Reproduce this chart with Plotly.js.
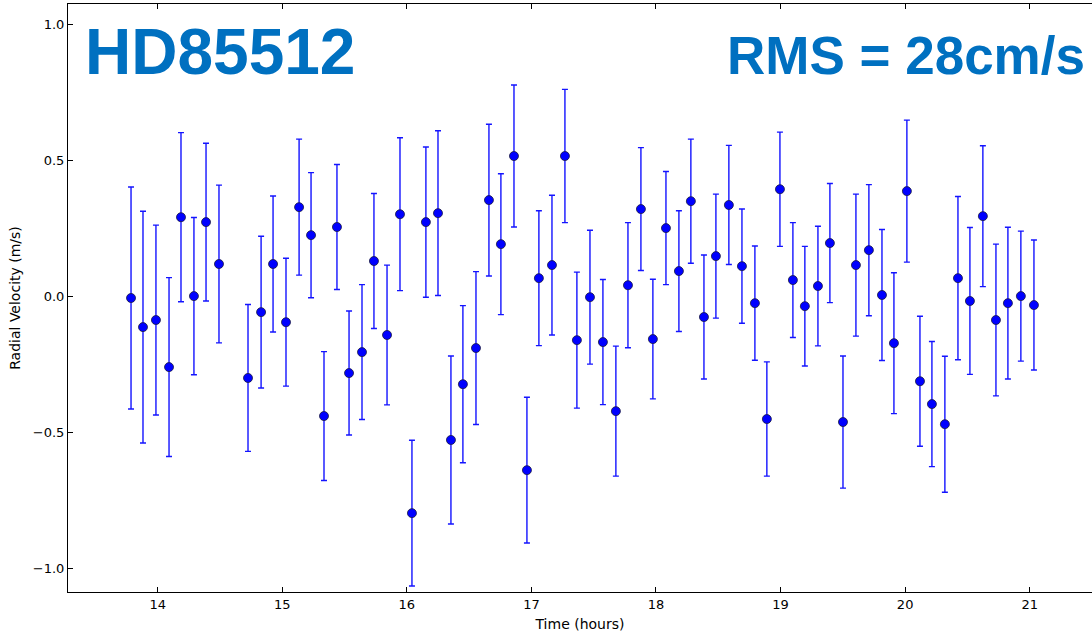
<!DOCTYPE html>
<html>
<head>
<meta charset="utf-8">
<script src="https://cdn.plot.ly/plotly-3.0.1.min.js"></script>
<style>html,body{margin:0;padding:0;background:#fff;}#chart{width:1092px;height:632px;}</style>
</head>
<body>
<div id="chart"></div>
<script>
// Time (hours)
const timeHours = [13.786,13.882,13.986,14.091,14.187,14.291,14.388,14.492,
  14.725,14.830,14.926,15.030,15.135,15.231,15.335,15.439,15.536,15.640,15.736,15.841,15.945,
  16.041,16.153,16.250,16.354,16.450,16.555,16.659,16.755,16.860,16.964,17.060,17.165,17.269,
  17.365,17.470,17.574,17.678,17.775,17.879,17.975,18.080,18.184,18.280,18.385,18.481,18.585,
  18.690,18.794,18.890,18.995,19.099,19.195,19.300,19.396,19.501,19.605,19.709,19.814,19.910,
  20.014,20.119,20.215,20.319,20.424,20.520,20.624,20.729,20.825,20.929,21.034];
// Radial velocity (m/s)
const radialVelocity = [-0.007,-0.114,-0.088,-0.261,0.290,0.000,0.272,0.118,
  -0.301,-0.059,0.118,-0.096,0.327,0.224,-0.441,0.254,-0.283,-0.206,0.129,-0.143,0.301,
  -0.798,0.272,0.305,-0.529,-0.324,-0.191,0.353,0.191,0.515,-0.640,0.066,0.114,0.515,
  -0.162,-0.004,-0.169,-0.423,0.040,0.320,-0.158,0.250,0.092,0.349,-0.077,0.147,0.335,
  0.110,-0.026,-0.452,0.393,0.059,-0.037,0.037,0.195,-0.463,0.114,0.169,0.004,-0.173,
  0.386,-0.313,-0.397,-0.471,0.066,-0.018,0.294,-0.088,-0.026,0.000,-0.033];
// Error (m/s)
const rvError = [0.408,0.426,0.349,0.329,0.311,0.289,0.290,0.290,
  0.270,0.279,0.250,0.235,0.250,0.230,0.237,0.230,0.228,0.248,0.248,0.257,0.281,
  0.268,0.276,0.303,0.309,0.289,0.281,0.279,0.259,0.261,0.268,0.248,0.257,0.245,
  0.250,0.246,0.230,0.239,0.230,0.226,0.220,0.208,0.222,0.228,0.228,0.228,0.219,
  0.210,0.210,0.210,0.210,0.211,0.220,0.220,0.219,0.243,0.261,0.241,0.241,0.259,
  0.261,0.239,0.230,0.250,0.300,0.270,0.259,0.279,0.279,0.239,0.239];

const xTickVals = [14,15,16,17,18,19,20,21];
const xTickText = ['14','15','16','17','18','19','20','21'];
const yTickVals = [1.0,0.5,0.0,-0.5,-1.0];
const yTickText = ['1.0','0.5','0.0','\u22120.5','\u22121.0'];

const starName = 'HD85512';
const rmsLabel = 'RMS = 28cm/s';
const xTitle = 'Time (hours)';
const yTitle = 'Radial Velocity (m/s)';

const trace = {
  type: 'scatter',
  mode: 'markers',
  x: timeHours,
  y: radialVelocity,
  marker: {color: '#0000ff', size: 9, line: {color: '#1a1a40', width: 0.8}},
  error_y: {type: 'data', array: rvError, visible: true, color: '#1414ff', thickness: 1.4, width: 3},
  hoverinfo: 'x+y'
};

const tickFont = {family: 'DejaVu Sans', size: 13, color: '#000'};
const titleFont = {family: 'DejaVu Sans', size: 14, color: '#000'};
const layout = {
  width: 1092, height: 632,
  margin: {l: 68, r: 0, t: 4, b: 40},
  paper_bgcolor: '#fff', plot_bgcolor: '#fff',
  showlegend: false,
  xaxis: {
    range: [13.28, 21.5],
    tickvals: xTickVals, ticktext: xTickText,
    ticks: 'inside', ticklen: 5, tickcolor: '#000', tickwidth: 1,
    showline: true, linecolor: '#000', linewidth: 1, mirror: 'ticks',
    showgrid: false, zeroline: false,
    tickfont: tickFont,
    title: {text: xTitle, font: titleFont, standoff: 8}
  },
  yaxis: {
    range: [-1.088, 1.074],
    tickvals: yTickVals, ticktext: yTickText,
    ticks: 'inside', ticklen: 5, tickcolor: '#000', tickwidth: 1,
    showline: true, linecolor: '#000', linewidth: 1, mirror: false,
    showgrid: false, zeroline: false,
    tickfont: tickFont,
    title: {text: yTitle, font: titleFont, standoff: 8}
  },
  annotations: [
    {text: '<b>' + starName + '</b>', xref: 'paper', yref: 'paper',
     x: (83 - 68) / 1024, y: (592 - 52) / 588, xanchor: 'left', yanchor: 'middle',
     showarrow: false, font: {family: 'Liberation Sans, Arial, sans-serif', size: 64, color: '#0070c0'}},
    {text: '<b>' + rmsLabel + '</b>', xref: 'paper', yref: 'paper',
     x: (1087 - 68) / 1024, y: (592 - 55) / 588, xanchor: 'right', yanchor: 'middle',
     showarrow: false, font: {family: 'Liberation Sans, Arial, sans-serif', size: 53, color: '#0070c0'}}
  ]
};

Plotly.newPlot('chart', [trace], layout, {displayModeBar: false, staticPlot: true});
</script>
</body>
</html>
